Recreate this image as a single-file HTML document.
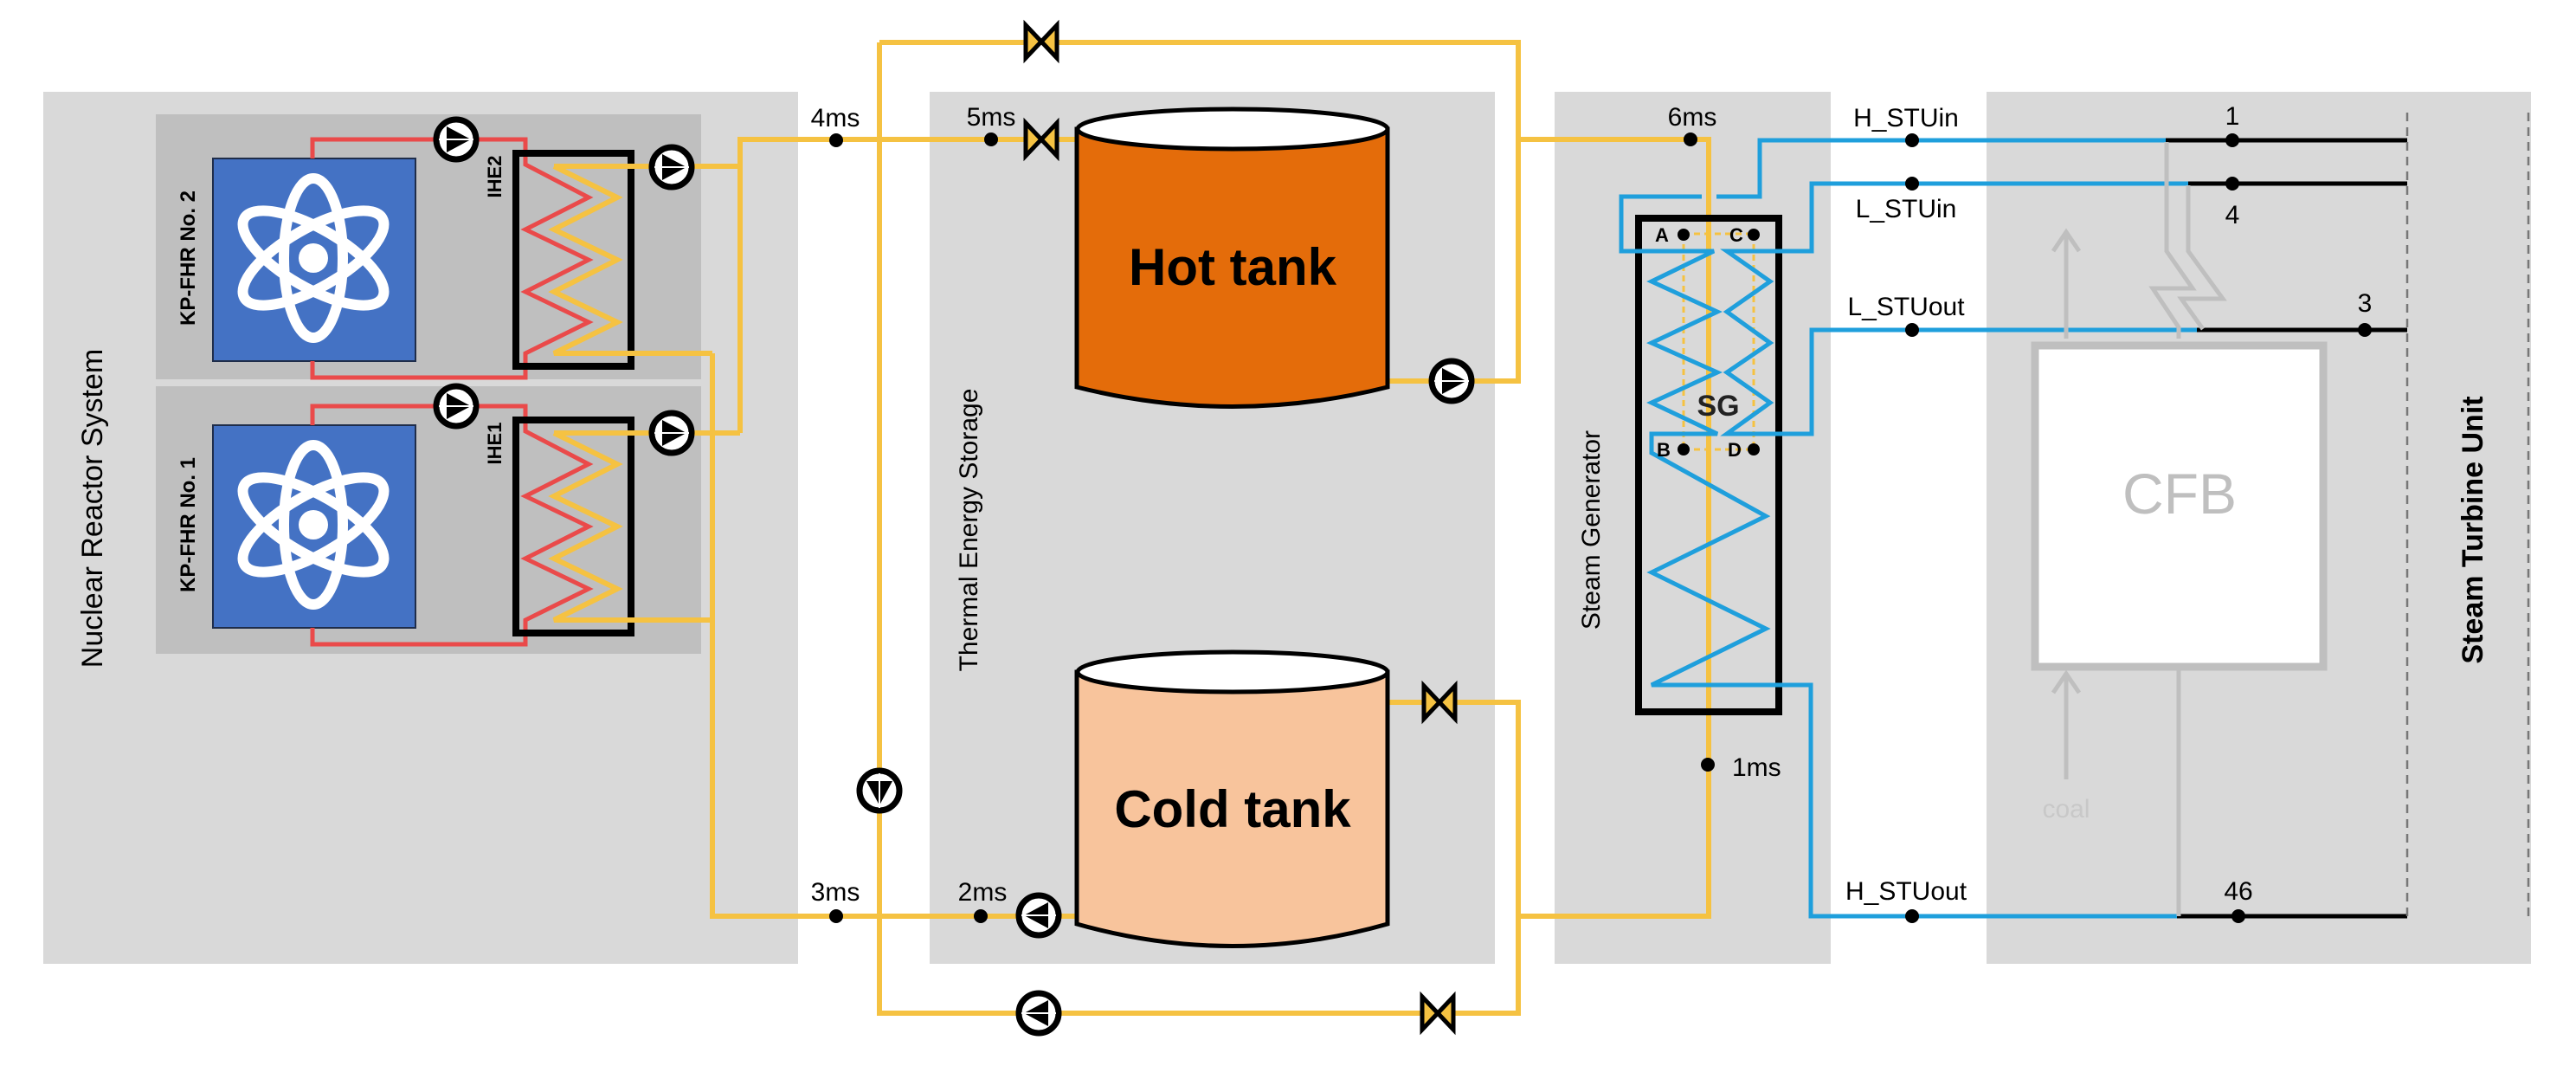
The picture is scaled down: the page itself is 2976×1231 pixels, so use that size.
<!DOCTYPE html>
<html><head><meta charset="utf-8"><style>
html,body{margin:0;padding:0;background:#fff}
svg{display:block}
text{font-family:"Liberation Sans",sans-serif}
</style></head><body>
<svg width="2976" height="1231" viewBox="0 0 2976 1231" xmlns="http://www.w3.org/2000/svg">
<defs>
<g id="pumpR"><circle r="23" fill="#fff" stroke="#000" stroke-width="7"/><path d="M-11,-15 L17,0 L-11,15 Z" fill="#000"/><line x1="-20" y1="0" x2="20" y2="0" stroke="#fff" stroke-width="2"/></g>
<g id="valve"><path d="M-18,-19 L18,19 L18,-19 L-18,19 Z" fill="#f5c242" stroke="#000" stroke-width="5" stroke-linejoin="miter"/></g>
<g id="atom" fill="none" stroke="#fff" stroke-width="12">
<ellipse rx="92" ry="34" transform="rotate(90)"/>
<ellipse rx="92" ry="34" transform="rotate(30)"/>
<ellipse rx="92" ry="34" transform="rotate(150)"/>
<circle r="17" fill="#fff" stroke="none"/>
</g>
</defs>

<!-- panels -->
<rect x="50" y="106" width="872" height="1007" fill="#d9d9d9"/>
<rect x="1074" y="106" width="653" height="1007" fill="#d9d9d9"/>
<rect x="1796" y="106" width="319" height="1007" fill="#d9d9d9"/>
<rect x="2295" y="106" width="629" height="1007" fill="#d9d9d9"/>
<rect x="180" y="132" width="630" height="306" fill="#bfbfbf"/>
<rect x="180" y="446" width="630" height="309" fill="#bfbfbf"/>

<!-- reactors -->
<rect x="246" y="183" width="234" height="234" fill="#4472c4" stroke="#1f2d4a" stroke-width="2"/>
<rect x="246" y="491" width="234" height="234" fill="#4472c4" stroke="#1f2d4a" stroke-width="2"/>
<use href="#atom" x="362" y="298"/>
<use href="#atom" x="362" y="606"/>

<!-- red loops -->
<g fill="none" stroke="#ea4a4a" stroke-width="5">
<path d="M361,183 V161 H607 V190 L680,228 L607,265 L680,300 L607,337 L680,372 L607,408 V436 H361 V417"/>
<path d="M361,491 V469 H607 V498 L680,536 L607,573 L680,608 L607,645 L680,680 L607,716 V744 H361 V725"/>
</g>
<!-- HX boxes -->
<rect x="596" y="177" width="133" height="246" fill="none" stroke="#000" stroke-width="8"/>
<rect x="596" y="485" width="133" height="246" fill="none" stroke="#000" stroke-width="8"/>
<!-- yellow in HX -->
<g fill="none" stroke="#f5c242" stroke-width="6">
<path d="M640,192 L713,228 L640,265 L713,300 L640,337 L713,372 L640,408 H823"/>
<path d="M640,500 L713,536 L640,573 L713,608 L640,645 L713,680 L640,716 H823"/>
<path d="M640,192 H855 M640,500 H855 M855,500 V161 H1244 M823,408 V1058 H1200"/>
<!-- outer loop -->
<path d="M1016,49 H1754 V440 H1603 M1754,161 H1974 V1058 H1754 M1016,49 V1170 H1754 V811 H1603"/>
<path d="M1200,1058 H1244"/>
</g>
<!-- SG inner dashed yellow -->
<g fill="none" stroke="#f5c242" stroke-width="3" stroke-dasharray="7,5">
<path d="M1945,270 H2026 M1945,270 V519 M2026,270 V519 M1945,519 H2026 M1973,519 V826"/>
</g>

<!-- pumps -->
<use href="#pumpR" x="527" y="161"/>
<use href="#pumpR" x="527" y="469"/>
<use href="#pumpR" x="776" y="193"/>
<use href="#pumpR" x="776" y="500"/>
<use href="#pumpR" x="1677" y="440"/>
<use href="#pumpR" transform="translate(1016,913) rotate(90)"/>
<use href="#pumpR" transform="translate(1200,1057) rotate(180)"/>
<use href="#pumpR" transform="translate(1200,1170) rotate(180)"/>
<!-- valves -->
<use href="#valve" x="1203" y="48"/>
<use href="#valve" x="1203" y="161"/>
<use href="#valve" x="1663" y="811"/>
<use href="#valve" x="1661" y="1170"/>

<!-- tanks -->
<path d="M1244,149 V447 Q1424,492 1603,447 V149 Z" fill="#e46c0a" stroke="#000" stroke-width="5"/>
<ellipse cx="1424" cy="149" rx="179" ry="23" fill="#fff" stroke="#000" stroke-width="5"/>
<path d="M1244,776 V1067 Q1424,1118 1603,1067 V776 Z" fill="#f8c49c" stroke="#000" stroke-width="5"/>
<ellipse cx="1424" cy="776" rx="179" ry="23" fill="#fff" stroke="#000" stroke-width="5"/>
<text x="1424" y="329" font-size="60" font-weight="bold" text-anchor="middle">Hot tank</text>
<text x="1424" y="955" font-size="60" font-weight="bold" text-anchor="middle">Cold tank</text>

<!-- SG box -->
<rect x="1893" y="252" width="162" height="570" fill="none" stroke="#000" stroke-width="8"/>
<!-- blue lines -->
<g fill="none" stroke="#1f9fdc" stroke-width="5">
<path d="M2502,162 H2033 V227 H1983 M1966,227 H1873 V290 H1980 L1908,325 L1984,360 L1908,396 L1984,430 L1908,465 L1984,501 H1908 V523 L2040,596 L1908,661 L2040,726 L1908,791 H2092 V1058 H2515"/>
<path d="M2528,212 H2093 V290 H1995 L2045,325 L1995,360 L2045,396 L1995,430 L2045,465 L1995,501 H2093 V381 H2538"/>
</g>
<!-- black STU lines -->
<g stroke="#000" stroke-width="5">
<path d="M2502,162 H2781 M2528,212 H2781 M2538,381 H2781 M2515,1058 H2781"/>
</g>
<g stroke="#777" stroke-width="2.5" stroke-dasharray="10,7">
<path d="M2781,130 V1058 M2921,130 V1060"/>
</g>
<!-- CFB -->
<g fill="none" stroke="#bfbfbf" stroke-width="5">
<path d="M2503,164 V290 L2533,333 H2487 L2517,378 V391"/>
<path d="M2528,214 V290 L2568,345 H2520 L2545,380"/>
<path d="M2387,391 V272 M2372,290 L2387,268 L2402,290"/>
<path d="M2387,900 V782 M2372,800 L2387,778 L2402,800"/>
<path d="M2517,774 V1058"/>
</g>
<rect x="2351" y="399" width="333" height="371" fill="#fff" stroke="#bfbfbf" stroke-width="9"/>
<text x="2518" y="593" font-size="66" fill="#bfbfbf" text-anchor="middle">CFB</text>
<text x="2387" y="944" font-size="30" fill="#c8c8c8" text-anchor="middle">coal</text>

<!-- dots -->
<g fill="#000">
<circle cx="966" cy="162" r="8"/><circle cx="966" cy="1058" r="8"/>
<circle cx="1145" cy="161" r="8"/><circle cx="1133" cy="1058" r="8"/>
<circle cx="1953" cy="161" r="8"/><circle cx="1973" cy="883" r="8"/>
<circle cx="2209" cy="162" r="8"/><circle cx="2209" cy="212" r="8"/>
<circle cx="2209" cy="381" r="8"/><circle cx="2209" cy="1058" r="8"/>
<circle cx="2579" cy="162" r="8"/><circle cx="2579" cy="212" r="8"/>
<circle cx="2732" cy="381" r="8"/><circle cx="2586" cy="1058" r="8"/>
<circle cx="1945" cy="271" r="7"/><circle cx="2026" cy="271" r="7"/>
<circle cx="1945" cy="519" r="7"/><circle cx="2026" cy="519" r="7"/>
</g>

<!-- labels -->
<g font-size="30" fill="#000">
<text x="965" y="146" text-anchor="middle">4ms</text>
<text x="965" y="1040" text-anchor="middle">3ms</text>
<text x="1145" y="145" text-anchor="middle">5ms</text>
<text x="1135" y="1040" text-anchor="middle">2ms</text>
<text x="1955" y="145" text-anchor="middle">6ms</text>
<text x="2001" y="896">1ms</text>
<text x="2202" y="146" text-anchor="middle">H_STUin</text>
<text x="2202" y="251" text-anchor="middle">L_STUin</text>
<text x="2202" y="364" text-anchor="middle">L_STUout</text>
<text x="2202" y="1039" text-anchor="middle">H_STUout</text>
<text x="2579" y="144" text-anchor="middle">1</text>
<text x="2579" y="258" text-anchor="middle">4</text>
<text x="2732" y="360" text-anchor="middle">3</text>
<text x="2586" y="1039" text-anchor="middle">46</text>
</g>
<g font-size="22" font-weight="bold">
<text x="1920" y="279" text-anchor="middle">A</text>
<text x="2006" y="279" text-anchor="middle">C</text>
<text x="1922" y="527" text-anchor="middle">B</text>
<text x="2004" y="527" text-anchor="middle">D</text>
</g>
<text x="1985" y="480" font-size="34" font-weight="bold" fill="#222" text-anchor="middle">SG</text>

<text transform="translate(118,587) rotate(-90)" font-size="34" text-anchor="middle">Nuclear Reactor System</text>
<text transform="translate(1129,612) rotate(-90)" font-size="30" text-anchor="middle">Thermal Energy Storage</text>
<text transform="translate(1848,612) rotate(-90)" font-size="30" text-anchor="middle">Steam Generator</text>
<text transform="translate(2868,612) rotate(-90)" font-size="34" font-weight="bold" text-anchor="middle">Steam Turbine Unit</text>
<text transform="translate(225,298) rotate(-90)" font-size="24" font-weight="bold" text-anchor="middle">KP-FHR No. 2</text>
<text transform="translate(225,606) rotate(-90)" font-size="24" font-weight="bold" text-anchor="middle">KP-FHR No. 1</text>
<text transform="translate(579,204) rotate(-90)" font-size="22" font-weight="bold" text-anchor="middle">IHE2</text>
<text transform="translate(579,512) rotate(-90)" font-size="22" font-weight="bold" text-anchor="middle">IHE1</text>
</svg>
</body></html>
